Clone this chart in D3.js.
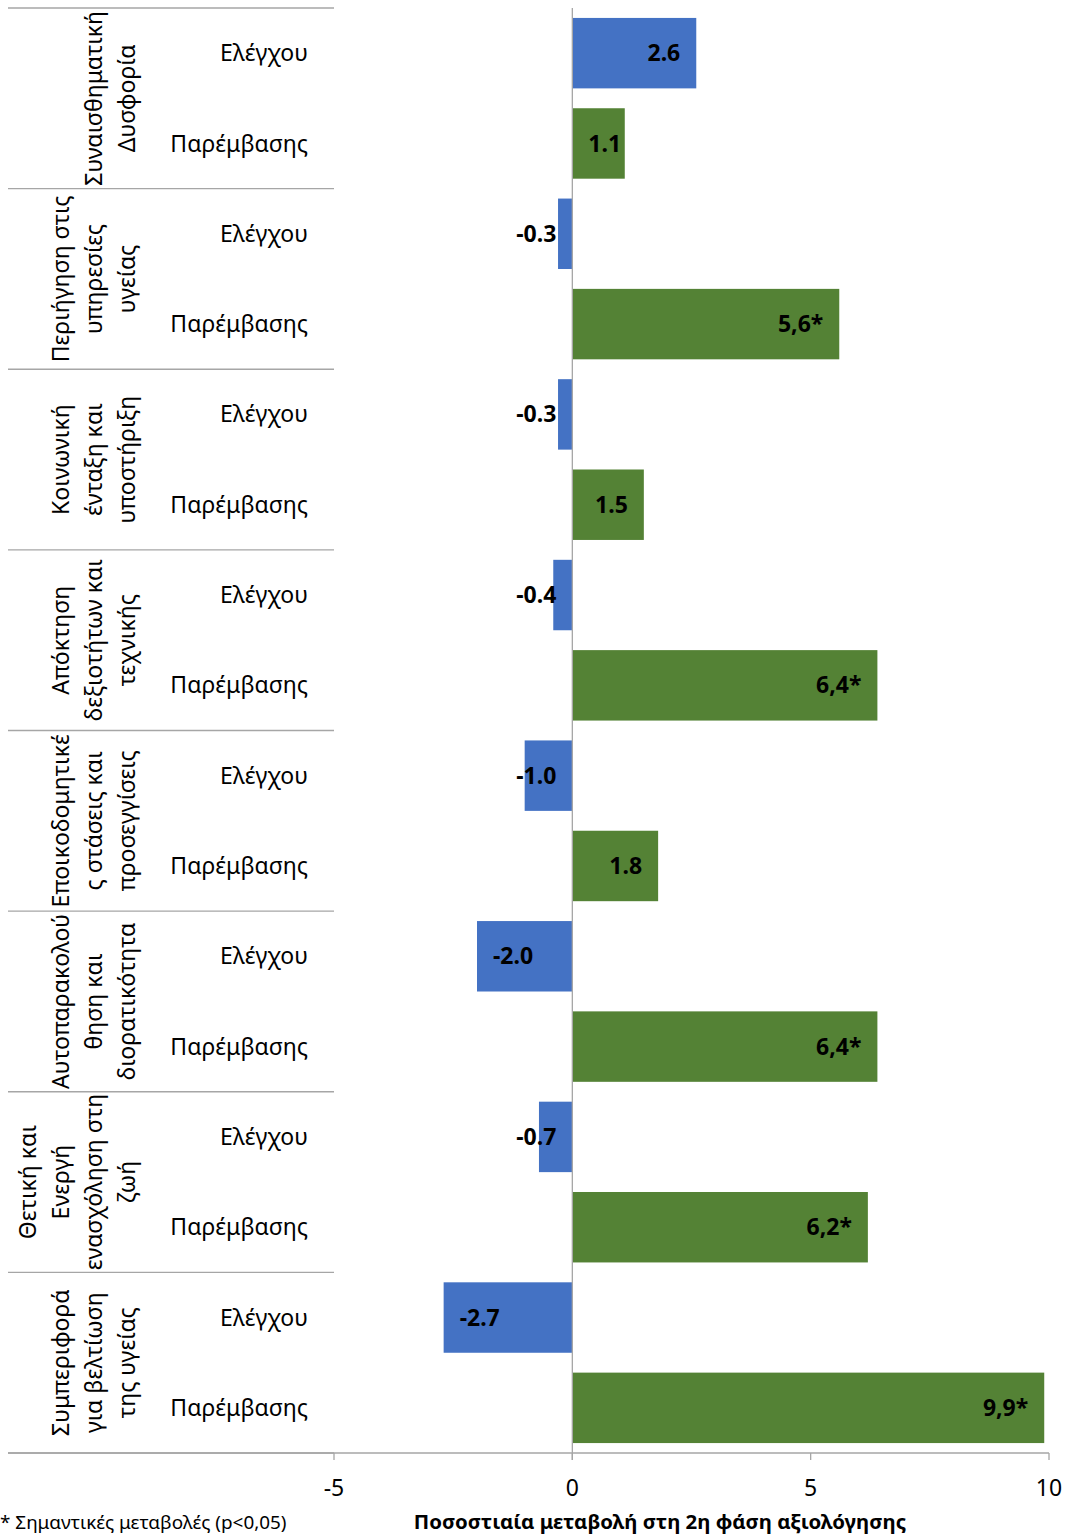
<!DOCTYPE html>
<html>
<head>
<meta charset="utf-8">
<script src="https://cdn.jsdelivr.net/npm/d3@7"></script>
<style>
  html, body { margin: 0; padding: 0; background: #fff; }
  svg { display: block; font-family: "Noto Sans", "Open Sans", sans-serif; }
</style>
</head>
<body>
<svg id="chart" width="1070" height="1536"></svg>
<script>
// Domains (outer category), each split into control / intervention rows
const groupLines = [
  ["Συναισθηματική", "Δυσφορία"],
  ["Περιήγηση στις", "υπηρεσίες", "υγείας"],
  ["Κοινωνική", "ένταξη και", "υποστήριξη"],
  ["Απόκτηση", "δεξιοτήτων και", "τεχνικής"],
  ["Εποικοδομητικέ", "ς στάσεις και", "προσεγγίσεις"],
  ["Αυτοπαρακολού", "θηση και", "διορατικότητα"],
  ["Θετική και", "Ενεργή", "ενασχόληση στη", "ζωή"],
  ["Συμπεριφορά", "για βελτίωση", "της υγείας"]
];
const rowNames = ["Ελέγχου", "Παρέμβασης"];

// Percentage change at the 2nd evaluation phase
const controlValues      = [2.6, -0.3, -0.3, -0.4, -1.0, -2.0, -0.7, -2.7];
const interventionValues = [1.1, 5.6, 1.5, 6.4, 1.8, 6.4, 6.2, 9.9];
const interventionSignificant = [false, true, false, true, false, true, true, true];

const xTicks = [-5, 0, 5, 10];
const xTitle = "Ποσοστιαία μεταβολή στη 2η φάση αξιολόγησης";
const footnote = "* Σημαντικές μεταβολές (p<0,05)";

const colors = { control: "#4472C4", intervention: "#548235" };

// One decimal, plain hyphen for negatives
const fmt1 = v => v.toFixed(1);

// Flatten into one bar per row
const rows = [];
groupLines.forEach((g, gi) => {
  rows.push({ key: gi + "-0", group: gi, kind: "control", name: rowNames[0],
              value: controlValues[gi], label: fmt1(controlValues[gi]) });
  const v = interventionValues[gi];
  const sig = interventionSignificant[gi];
  rows.push({ key: gi + "-1", group: gi, kind: "intervention", name: rowNames[1],
              value: v, label: sig ? fmt1(v).replace(".", ",") + "*" : fmt1(v) });
});

const svg = d3.select("#chart");
const plotTop = 8, plotBottom = 1453;
const x = d3.scaleLinear().domain([-5, 10]).range([334, 1049]);
const y = d3.scaleBand().domain(rows.map(r => r.key)).range([plotTop, plotBottom])
  .paddingInner(0.22).paddingOuter(0.11);
const gBand = d3.scaleBand().domain(d3.range(groupLines.length)).range([plotTop, plotBottom]);

const grey = "#A6A6A6";

// Bars
svg.append("g").selectAll("rect").data(rows).join("rect")
  .attr("x", d => x(Math.min(0, d.value)))
  .attr("y", d => y(d.key))
  .attr("width", d => Math.abs(x(d.value) - x(0)))
  .attr("height", y.bandwidth())
  .attr("fill", d => colors[d.kind]);

// Zero line
svg.append("line")
  .attr("x1", x(0)).attr("x2", x(0))
  .attr("y1", plotTop).attr("y2", plotBottom + 7)
  .attr("stroke", grey).attr("stroke-width", 1.3);

// Bottom axis
const axis = svg.append("g").attr("transform", `translate(0,${plotBottom})`);
axis.append("line").attr("x1", 8).attr("x2", x(10)).attr("y1", 0).attr("y2", 0)
  .attr("stroke", grey).attr("stroke-width", 1.3);
axis.selectAll("line.tick").data(xTicks).join("line").attr("class", "tick")
  .attr("x1", d => x(d)).attr("x2", d => x(d)).attr("y1", 0).attr("y2", 7)
  .attr("stroke", grey).attr("stroke-width", 1.3);
axis.selectAll("text").data(xTicks).join("text")
  .attr("x", d => x(d)).attr("y", 43)
  .attr("text-anchor", "middle").attr("font-size", 23).attr("fill", "#000")
  .text(d => d < 0 ? "-" + Math.abs(d) : d);

// Group separators
svg.append("g").selectAll("line").data(d3.range(groupLines.length + 1)).join("line")
  .attr("x1", 8).attr("x2", x(-5))
  .attr("y1", i => i < groupLines.length ? gBand(i) : plotBottom)
  .attr("y2", i => i < groupLines.length ? gBand(i) : plotBottom)
  .attr("stroke", grey).attr("stroke-width", 1.3);

// Row names
svg.append("g").selectAll("text").data(rows).join("text")
  .attr("x", 308).attr("y", d => y(d.key) + y.bandwidth() / 2)
  .attr("dy", "0.35em").attr("text-anchor", "end")
  .attr("font-size", 23).attr("fill", "#000")
  .text(d => d.name);

// Group names, rotated
const groupSel = svg.append("g").selectAll("g").data(groupLines).join("g")
  .attr("transform", (d, i) => `translate(0,${gBand(i) + gBand.bandwidth() / 2})`);
groupSel.each(function(lines) {
  const n = lines.length;
  d3.select(this).selectAll("text").data(lines).join("text")
    .attr("transform", (t, j) => `translate(${127 - (n - 1 - j) * 33},0) rotate(-90)`)
    .attr("text-anchor", "middle").attr("dy", "0.35em")
    .attr("font-size", 23).attr("fill", "#000")
    .text(t => t);
});

// Value labels, placed inside the bar end but kept clear of the zero line
const labels = svg.append("g").selectAll("text").data(rows).join("text")
  .attr("y", d => y(d.key) + y.bandwidth() / 2)
  .attr("dy", "0.35em")
  .attr("font-size", 23).attr("font-weight", "bold").attr("fill", "#000")
  .text(d => d.label);
labels.each(function(d) {
  const w = this.getComputedTextLength();
  const pad = 16;
  let start;
  if (d.value >= 0) {
    start = Math.max(x(d.value) - pad - w, x(0) + pad);
  } else {
    start = Math.min(x(d.value) + pad, x(0) - pad - w);
  }
  d3.select(this).attr("x", start);
});

// Axis title and footnote
svg.append("text").attr("x", 660).attr("y", 1529)
  .attr("text-anchor", "middle").attr("font-size", 20.4).attr("font-weight", "bold")
  .text(xTitle);
svg.append("text").attr("x", 0).attr("y", 1529)
  .attr("font-size", 18.9).text(footnote);
</script>
</body>
</html>
